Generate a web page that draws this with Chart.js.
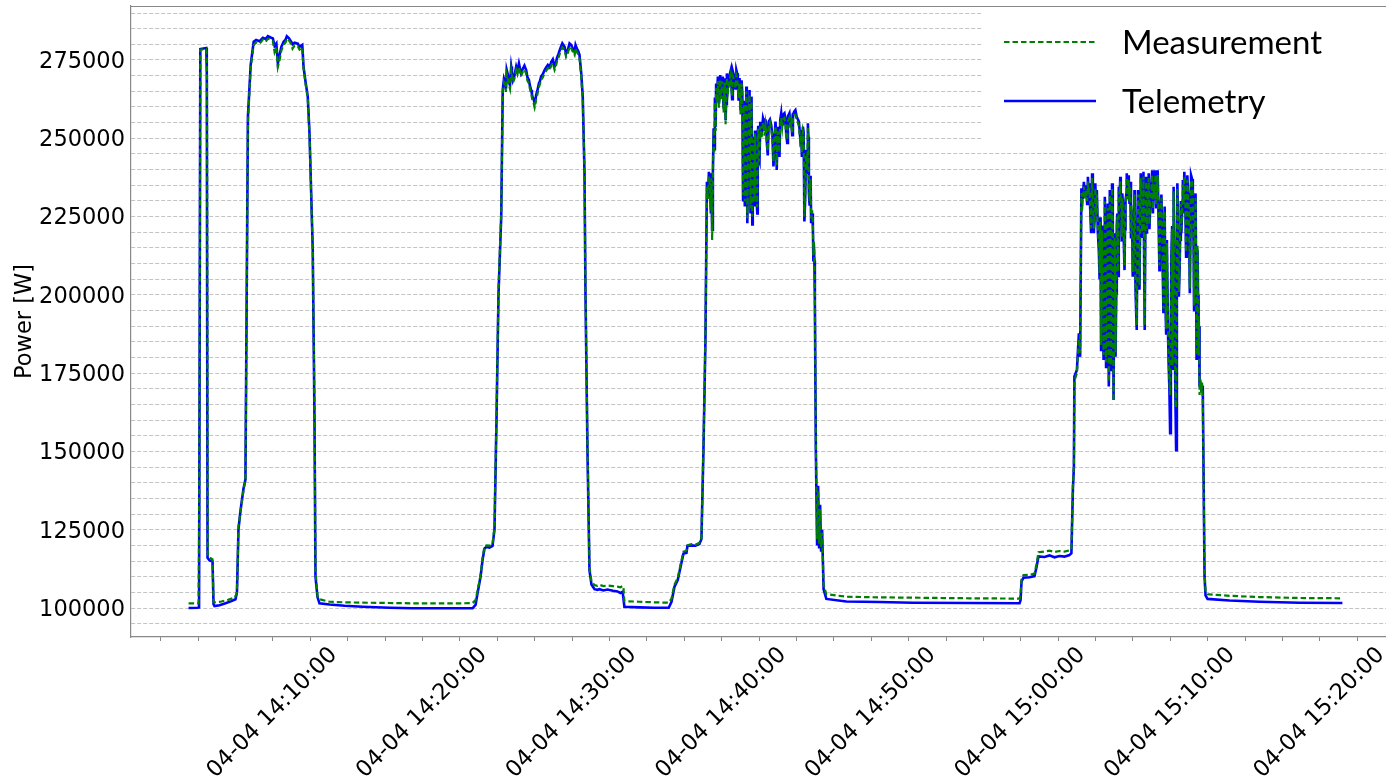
<!DOCTYPE html>
<html>
<head>
<meta charset="utf-8">
<script src="https://cdn.jsdelivr.net/npm/chart.js@4.4.1/dist/chart.umd.min.js"></script>
<style>
  html, body { margin: 0; padding: 0; background: #fff; overflow: hidden; }
  #wrap { width: 1386px; height: 779px; overflow: hidden; position: relative; }
  canvas { display: block; }
</style>
</head>
<body>
<div id="wrap"><canvas id="c" width="1410" height="779"></canvas></div>
<script>
// ---- Data (time = seconds after 04-04 14:00:00, power in W) ----
const seriesNames = ['Measurement', 'Telemetry'];
const datePrefix = '04-04';

const telemetryTime = [
  262, 298, 304, 309, 333, 335, 338, 346, 358, 362, 366, 386, 410, 434, 450, 456, 462, 470, 482, 490,
  500, 511, 523, 533, 547, 560, 571, 580, 591, 600, 607, 614, 620, 627, 634, 643, 651, 656, 664, 674,
  679, 687, 700, 707, 718, 723, 731, 740, 747, 760, 767, 771, 779, 787, 827, 888, 960, 1068, 1160, 1269,
  1361, 1401, 1413, 1421, 1433, 1441, 1449, 1457, 1469, 1481, 1489, 1497, 1505, 1516, 1522, 1533, 1538, 1547, 1556, 1563,
  1576, 1587, 1603, 1616, 1627, 1636, 1642, 1650, 1656, 1667, 1676, 1690, 1703, 1717, 1730, 1739, 1753, 1770, 1783, 1797,
  1810, 1819, 1830, 1837, 1843, 1850, 1854, 1862, 1870, 1878, 1890, 1902, 1910, 1926, 1942, 1964, 1982, 1994, 2003, 2010,
  2071, 2131, 2188, 2199, 2211, 2224, 2235, 2247, 2259, 2263, 2279, 2295, 2311, 2319, 2327, 2335, 2341, 2349, 2354, 2359,
  2362, 2365, 2368, 2376, 2378, 2385, 2389, 2394, 2402, 2408, 2412, 2416, 2421, 2432, 2439, 2445, 2452, 2459, 2465, 2472,
  2476, 2483, 2486, 2490, 2493, 2499, 2503, 2508, 2512, 2516, 2520, 2525, 2532, 2536, 2541, 2545, 2549, 2555, 2566, 2572,
  2576, 2581, 2589, 2599, 2608, 2616, 2621, 2625, 2629, 2635, 2639, 2646, 2652, 2659, 2666, 2672, 2679, 2686, 2696, 2701,
  2710, 2719, 2726, 2732, 2739, 2746, 2750, 2755, 2759, 2766, 2768, 2772, 2774, 2778, 2783, 2787, 2791, 2795, 2799, 2803,
  2809, 2820, 2900, 3033, 3166, 3394, 3595, 3599, 3603, 3611, 3635, 3655, 3663, 3671, 3695, 3715, 3735, 3755, 3775, 3795,
  3803, 3809, 3813, 3815, 3825, 3833, 3838, 3843, 3853, 3862, 3869, 3875, 3882, 3886, 3893, 3899, 3905, 3913, 3918, 3922,
  3926, 3932, 3937, 3942, 3949, 3953, 3957, 3962, 3966, 3972, 3976, 3980, 3985, 3989, 3993, 3999, 4003, 4007, 4012, 4016,
  4020, 4025, 4033, 4039, 4044, 4049, 4056, 4060, 4065, 4071, 4076, 4081, 4087, 4092, 4097, 4103, 4108, 4113, 4119, 4127,
  4132, 4140, 4145, 4149, 4156, 4161, 4167, 4172, 4177, 4183, 4188, 4193, 4199, 4204, 4209, 4213, 4219, 4223, 4228, 4234,
  4239, 4244, 4250, 4256, 4263, 4268, 4274, 4278, 4283, 4290, 4295, 4301, 4305, 4309, 4313, 4317, 4324, 4330, 4333, 4337,
  4341, 4349, 4437, 4557, 4718, 4890
];
const telemetryPower = [
  100000, 100100, 100200, 278500, 278800, 271000, 116000, 115200, 114800, 101200, 100600, 100900, 101500, 102200, 102800, 105000, 125000, 131000, 138000, 141000,
  257000, 273400, 280800, 281400, 281000, 282100, 281700, 282600, 282200, 281900, 279500, 280300, 273900, 276600, 279200, 280800, 281500, 282600, 282000, 280800,
  280000, 280500, 280200, 279200, 279800, 272900, 268100, 263300, 251600, 214300, 160000, 110000, 103500, 101500, 101100, 100700, 100400, 100100, 99900, 99900,
  99900, 99900, 101000, 104700, 110000, 115300, 119000, 119500, 119300, 119800, 125000, 160000, 200000, 225000, 265400, 267500, 271800, 268000, 272900, 268600,
  272900, 273900, 272300, 271800, 268600, 265400, 263000, 261200, 263800, 267500, 269700, 271800, 273400, 274400, 272900, 275500, 278700, 279200, 278200, 279800,
  277600, 278700, 276600, 270700, 263300, 238900, 200000, 150000, 112000, 107500, 106000, 105800, 106000, 105600, 105900, 105500, 105300, 104800, 105200, 100400,
  100200, 100100, 100100, 102000, 106800, 108900, 113000, 117400, 117600, 119800, 120000, 119900, 120400, 122000, 150000, 185000, 236100, 239300, 232400, 238800,
  220700, 239800, 253200, 253700, 267500, 269700, 261200, 270200, 269700, 259500, 269200, 255800, 270700, 270200, 267500, 271300, 269700, 271800, 268000, 269200,
  259000, 264400, 230200, 262000, 228200, 266500, 222900, 248000, 265400, 226000, 263300, 235600, 228200, 245300, 229300, 251600, 244000, 255300, 256400, 252200,
  256000, 249400, 255300, 254200, 241000, 255300, 239900, 253700, 250600, 255800, 258000, 257500, 258000, 251600, 257000, 258000, 256400, 257500, 259000, 256900,
  255300, 252600, 253700, 223400, 246300, 254800, 232400, 232400, 222900, 221800, 211100, 211000, 198300, 150000, 120000, 139000, 119000, 133000, 118000, 125000,
  106000, 102900, 102100, 101900, 101700, 101600, 101500, 102500, 108500, 109700, 109800, 110200, 113000, 116500, 116300, 116800, 116200, 116600, 116400, 116900,
  117500, 138000, 145000, 173900, 176000, 187700, 180200, 234000, 236100, 235000, 237700, 235600, 219700, 238800, 219700, 235600, 233500, 214300, 224800, 182400,
  222100, 179200, 231300, 177000, 229200, 170700, 233500, 176000, 235600, 166400, 219700, 180200, 222100, 214300, 234500, 237700, 225000, 232400, 221800, 207900,
  230200, 238800, 238200, 236100, 227100, 205800, 233500, 202600, 188800, 233500, 201600, 238800, 218600, 239300, 188800, 237700, 229200, 238800, 228200, 239800,
  232400, 239800, 235600, 239800, 207900, 228200, 219700, 194100, 228200, 187700, 203700, 178100, 155800, 212200, 176000, 234500, 174900, 150400, 235600, 199400,
  217600, 219700, 236700, 239300, 212200, 238200, 225000, 200500, 238200, 233500, 195100, 232400, 179200, 214300, 179200, 170700, 170700, 170200, 144100, 110000,
  104000, 102900, 102400, 102000, 101700, 101600
];
// additional telemetry samples read from the noisy plateaus
const telemetryExtraTime = [
  1527, 1535, 1542, 1551, 1559, 1569, 1581, 1595, 1609, 1621, 1631, 1639, 1646, 1653, 1661, 1671, 1683, 1696, 1710, 1723,
  1735, 1746, 1761, 1776, 1790, 1803, 1814, 1825,
  2345, 2352, 2357, 2370, 2373, 2381, 2392, 2398, 2405, 2410, 2414, 2418, 2426, 2436, 2442, 2449, 2456, 2462, 2468, 2480,
  2488, 2496, 2501, 2506, 2510, 2514, 2518, 2523, 2528, 2534, 2539, 2543, 2547, 2552, 2560, 2569, 2579, 2585, 2594, 2604,
  2612, 2619, 2632, 2643, 2656, 2663, 2676, 2683, 2691, 2706, 2715, 2722, 2729, 2735, 2743, 2748, 2753, 2757, 2763, 2770,
  3848, 3858, 3866, 3872, 3879, 3889, 3896, 3902, 3909, 3916, 3920, 3924, 3929, 3935, 3940, 3945, 3951, 3955, 3960, 3964,
  3969, 3974, 3978, 3983, 3987, 3991, 3996, 4001, 4005, 4010, 4014, 4018, 4023, 4029, 4036, 4042, 4047, 4053, 4058, 4062,
  4068, 4074, 4079, 4084, 4090, 4095, 4100, 4106, 4111, 4116, 4123, 4130, 4136, 4143, 4147, 4153, 4158, 4164, 4170, 4175,
  4180, 4186, 4191, 4196, 4202, 4207, 4211, 4216, 4221, 4226, 4231, 4237, 4242, 4247, 4253, 4260, 4266, 4271, 4276, 4281,
  4287, 4293, 4298, 4303, 4307, 4311, 4315, 4320, 4327
];
const telemetryExtraPower = [
  269000, 265800, 270500, 266900, 271200, 270000, 271500, 270800, 273200, 269500, 266800, 264200, 262500, 262000, 265200, 268200, 270500, 272600, 272700, 275200,
  273900, 277000, 280300, 277000, 280300, 278600, 279800, 277800,
  231000, 236500, 226000, 246500, 263000, 262500, 264000, 263500, 266000, 262500, 265500, 261000, 266000, 271500, 262500, 270000, 265500, 270800, 262000, 268500,
  258000, 235000, 262500, 240000, 258500, 236500, 250000, 222500, 250500, 252500, 238000, 226000, 254000, 243000, 251000, 255500, 253500, 244500, 256000, 250500,
  248500, 251500, 244000, 254500, 256000, 248500, 254000, 251000, 258500, 256000, 250500, 244000, 252000, 230000, 239000, 250500, 228500, 238000, 226000, 216000,
  230500, 231500, 229000, 233500, 226000, 230000, 224000, 226500, 220000, 205000, 215000, 196000, 210500, 189000, 222000, 186000, 214000, 181000, 226000, 188000,
  224000, 192000, 208000, 200500, 226000, 206000, 230000, 232000, 217000, 228500, 214000, 221000, 232000, 231500, 229000, 218000, 222000, 212500, 224000, 196500,
  220500, 215500, 226000, 230500, 225000, 208000, 228000, 219500, 232500, 221000, 234000, 226000, 233500, 228000, 233000, 222500, 215500, 232000, 205000, 213000,
  199000, 217500, 186000, 170000, 190500, 222000, 196000, 212000, 162000, 208000, 220500, 208000, 230000, 226500, 230000, 228500, 220000, 232500, 214000, 222000,
  237000, 216500, 214000, 211000, 196500, 200000, 190000, 172000, 171000
];

const measurementTime = [
  262, 302, 305, 309, 333, 336, 339, 358, 362, 366, 390, 420, 446, 455, 458, 462, 470, 482, 490, 500,
  511, 523, 533, 547, 560, 571, 580, 591, 600, 607, 614, 620, 627, 634, 643, 651, 656, 664, 674, 679,
  687, 700, 707, 718, 723, 731, 740, 747, 760, 767, 771, 779, 787, 827, 888, 960, 1068, 1160, 1269, 1361,
  1401, 1413, 1421, 1433, 1441, 1449, 1457, 1469, 1481, 1489, 1497, 1505, 1516, 1522, 1533, 1538, 1547, 1556, 1563, 1576,
  1587, 1603, 1616, 1627, 1636, 1642, 1650, 1656, 1667, 1676, 1690, 1703, 1717, 1730, 1739, 1753, 1770, 1783, 1797, 1810,
  1819, 1830, 1837, 1843, 1850, 1854, 1862, 1870, 1878, 1890, 1902, 1910, 1926, 1942, 1964, 1982, 1994, 2003, 2006, 2010,
  2071, 2131, 2188, 2199, 2211, 2224, 2235, 2247, 2259, 2263, 2279, 2295, 2311, 2319, 2327, 2335, 2341, 2349, 2354, 2359,
  2362, 2365, 2368, 2376, 2378, 2385, 2389, 2394, 2402, 2408, 2412, 2416, 2421, 2432, 2439, 2445, 2452, 2459, 2465, 2472,
  2476, 2483, 2486, 2490, 2493, 2499, 2503, 2508, 2512, 2516, 2520, 2525, 2532, 2536, 2541, 2545, 2549, 2555, 2566, 2572,
  2576, 2581, 2589, 2599, 2608, 2616, 2621, 2625, 2629, 2635, 2639, 2646, 2652, 2659, 2666, 2672, 2679, 2686, 2696, 2701,
  2710, 2719, 2726, 2732, 2739, 2746, 2750, 2755, 2759, 2766, 2768, 2772, 2774, 2778, 2783, 2787, 2791, 2795, 2799, 2803,
  2809, 2820, 2900, 3033, 3166, 3394, 3595, 3599, 3603, 3611, 3635, 3655, 3663, 3671, 3695, 3715, 3735, 3755, 3775, 3795,
  3803, 3809, 3813, 3815, 3825, 3833, 3838, 3843, 3853, 3862, 3869, 3875, 3882, 3886, 3893, 3899, 3905, 3913, 3918, 3922,
  3926, 3932, 3937, 3942, 3949, 3953, 3957, 3962, 3966, 3972, 3976, 3980, 3985, 3989, 3993, 3999, 4003, 4007, 4012, 4016,
  4020, 4025, 4033, 4039, 4044, 4049, 4056, 4060, 4065, 4071, 4076, 4081, 4087, 4092, 4097, 4103, 4108, 4113, 4119, 4127,
  4132, 4140, 4145, 4149, 4156, 4161, 4167, 4172, 4177, 4183, 4188, 4193, 4199, 4204, 4209, 4213, 4219, 4223, 4228, 4234,
  4239, 4244, 4250, 4256, 4263, 4268, 4274, 4278, 4283, 4290, 4295, 4301, 4305, 4309, 4313, 4317, 4324, 4330, 4333, 4337,
  4341, 4349, 4437, 4557, 4718, 4890
];
const measurementPower = [
  101500, 101500, 140000, 278300, 278500, 270000, 116500, 115500, 102000, 101800, 102000, 102600, 103300, 104500, 110000, 126000, 130500, 137500, 141000, 255000,
  272500, 279800, 280600, 280200, 281500, 280800, 281800, 281500, 281000, 277500, 279000, 272800, 275000, 278000, 279800, 280600, 281800, 281300, 280000, 278600,
  279600, 279400, 278300, 279000, 272500, 267500, 262800, 251000, 214000, 165000, 112000, 103800, 102800, 102000, 101800, 101700, 101600, 101500, 101500, 101500,
  101600, 102500, 105500, 110500, 116000, 119700, 120000, 119900, 120300, 126000, 162000, 202000, 226000, 264500, 266500, 270500, 267000, 271800, 267800, 271800,
  272800, 271300, 270600, 267500, 264300, 262000, 259800, 262500, 266300, 268600, 270800, 272300, 273300, 271800, 274400, 277500, 278200, 277100, 278700, 276600,
  277600, 275600, 269500, 262000, 240000, 202000, 152000, 113000, 108500, 107300, 107100, 107400, 107000, 107200, 107000, 106800, 106600, 107000, 106900, 102200,
  102000, 101800, 101700, 103000, 107500, 109600, 113800, 118000, 118300, 120000, 120400, 120200, 120800, 122500, 151000, 186000, 234500, 237800, 230800, 237200,
  217500, 238300, 251800, 252300, 266000, 268200, 259800, 268800, 268200, 258200, 267800, 254500, 269300, 268800, 266000, 269800, 268300, 270300, 266600, 267800,
  257600, 263000, 231800, 260600, 229800, 265000, 224500, 246600, 264000, 227600, 261800, 237200, 229800, 243800, 230900, 250100, 242600, 253800, 254900, 250800,
  254500, 248000, 253800, 252800, 242500, 253800, 241400, 252200, 249200, 254300, 256500, 256000, 256500, 250200, 255500, 256500, 255000, 256000, 257500, 255500,
  253800, 251200, 252200, 225000, 244800, 253300, 234000, 233800, 224400, 223300, 212600, 212500, 199800, 152000, 122000, 137500, 120500, 131500, 119500, 124000,
  107500, 104400, 103600, 103400, 103300, 103100, 103000, 104000, 109500, 110500, 110600, 111000, 114000, 117800, 118000, 118300, 117900, 118200, 118000, 118400,
  119000, 139000, 146000, 172500, 175000, 186000, 181500, 232500, 234600, 233600, 236200, 234100, 221200, 237300, 221200, 234100, 232000, 215800, 223300, 184000,
  220600, 180800, 229800, 178500, 227700, 172200, 232000, 177500, 234100, 166000, 218200, 181700, 220600, 215800, 233000, 236200, 226500, 230900, 223300, 209400,
  228700, 237300, 236700, 234600, 228600, 207300, 232000, 204100, 190300, 232000, 203100, 237300, 220100, 237800, 190300, 236200, 230700, 237300, 229700, 238300,
  233900, 238300, 236100, 238300, 209400, 226700, 221200, 195600, 226700, 189200, 205200, 179600, 168000, 210700, 177500, 233000, 176400, 164000, 234100, 200900,
  219100, 221200, 235200, 237800, 213700, 236700, 226500, 202000, 236700, 232000, 196600, 230900, 180700, 215800, 180700, 168000, 168500, 166000, 142000, 112000,
  105500, 104400, 103900, 103500, 103200, 103100
];
// additional measurement samples read from the noisy plateaus
const measurementExtraTime = [
  1527, 1535, 1542, 1551, 1559, 1569, 1581, 1595, 1609, 1621, 1631, 1639, 1646, 1653, 1661, 1671, 1683, 1696, 1710, 1723,
  1735, 1746, 1761, 1776, 1790, 1803, 1814, 1825,
  2345, 2352, 2357, 2370, 2373, 2381, 2392, 2398, 2405, 2410, 2414, 2418, 2426, 2436, 2442, 2449, 2456, 2462, 2468, 2480,
  2488, 2496, 2501, 2506, 2510, 2514, 2518, 2523, 2528, 2534, 2539, 2543, 2547, 2552, 2560, 2569, 2579, 2585, 2594, 2604,
  2612, 2619, 2632, 2643, 2656, 2663, 2676, 2683, 2691, 2706, 2715, 2722, 2729, 2735, 2743, 2748, 2753, 2757, 2763, 2770,
  3848, 3858, 3866, 3872, 3879, 3889, 3896, 3902, 3909, 3916, 3920, 3924, 3929, 3935, 3940, 3945, 3951, 3955, 3960, 3964,
  3969, 3974, 3978, 3983, 3987, 3991, 3996, 4001, 4005, 4010, 4014, 4018, 4023, 4029, 4036, 4042, 4047, 4053, 4058, 4062,
  4068, 4074, 4079, 4084, 4090, 4095, 4100, 4106, 4111, 4116, 4123, 4130, 4136, 4143, 4147, 4153, 4158, 4164, 4170, 4175,
  4180, 4186, 4191, 4196, 4202, 4207, 4211, 4216, 4221, 4226, 4231, 4237, 4242, 4247, 4253, 4260, 4266, 4271, 4276, 4281,
  4287, 4293, 4298, 4303, 4307, 4311, 4315, 4320, 4327
];
const measurementExtraPower = [
  267800, 264800, 269300, 265800, 270200, 269000, 270500, 269800, 272000, 268400, 265800, 263000, 261200, 260800, 264000, 267200, 269500, 271500, 271800, 274000,
  272800, 275800, 279000, 276000, 279300, 277600, 278800, 276800,
  230500, 235500, 227000, 245000, 261500, 261500, 263000, 262500, 265000, 263000, 264500, 262000, 265000, 270300, 263500, 269000, 266000, 269600, 263000, 267500,
  259000, 237000, 261500, 242000, 257500, 238500, 249000, 225000, 249500, 251500, 239500, 228000, 253000, 244500, 250000, 254500, 252500, 246000, 255000, 249500,
  249500, 250500, 245500, 253500, 255000, 249500, 253000, 251500, 257500, 255000, 249500, 245500, 251000, 232000, 240000, 249500, 230000, 237000, 227000, 217000,
  229500, 230500, 230000, 232500, 227500, 229000, 225500, 225500, 221500, 207000, 214000, 198000, 209500, 191000, 221000, 188000, 213000, 183000, 225000, 190000,
  223000, 194000, 207000, 202000, 225000, 207500, 229000, 231000, 218500, 227500, 215500, 220000, 231000, 230500, 230000, 219500, 221000, 214000, 223000, 198500,
  219500, 217000, 225000, 229500, 226000, 210000, 227000, 221000, 231500, 222500, 233000, 227500, 232500, 229000, 232000, 224000, 217000, 231000, 207000, 212000,
  201000, 216500, 188000, 172000, 189500, 221000, 198000, 211000, 165000, 207000, 219500, 209500, 229000, 225500, 229000, 229500, 221500, 231500, 215500, 221000,
  236000, 218000, 215500, 210000, 198000, 199000, 191500, 173000, 172000
];

// Axis ticks
const xRange = [31, 5121];            // seconds after 14:00:00
const xMinorStep = 150;               // 2.5 min
const xMajorStep = 600;               // 10 min -> labelled
const yRange = [90740, 292240];
const yMinorStep = 5000;
const yMajorStep = 25000;             // labelled

function pad2(n) { return String(n).padStart(2, '0'); }
function timeLabel(sec) {
  const h = 14 + Math.floor(sec / 3600);
  const m = Math.floor((sec % 3600) / 60);
  const s = sec % 60;
  return datePrefix + ' ' + h + ':' + pad2(m) + ':' + pad2(s);
}
function toPoints(ts, vs, ets, evs) {
  const pts = ts.map((t, i) => ({ x: t, y: vs[i] }));
  ets.forEach((t, i) => pts.push({ x: t, y: evs[i] }));
  return pts.sort((a, b) => a.x - b.x);
}

const TICK_FONT = { family: "'DejaVu Sans', sans-serif", size: 22.5 };

const frameAndLegend = {
  id: 'frameAndLegend',
  afterDatasetsDraw(chart) {
    const ctx = chart.ctx;
    const a = chart.chartArea;
    ctx.save();
    // legend box (white, no visible edge)
    const bx = a.left + 852, by = a.top + 2, bw = a.right - bx - 6, bh = 138;
    ctx.fillStyle = '#ffffff';
    ctx.fillRect(bx, by, bw, bh);
    const ds = chart.data.datasets;
    const rows = [a.top + 36, a.top + 95];
    ds.forEach((d, i) => {
      const y = rows[i];
      ctx.beginPath();
      ctx.strokeStyle = d.borderColor;
      ctx.lineWidth = d.borderWidth;
      ctx.setLineDash(d.borderDash || []);
      ctx.moveTo(bx + 21, y);
      ctx.lineTo(bx + 113, y);
      ctx.stroke();
      ctx.setLineDash([]);
      ctx.fillStyle = '#000';
      ctx.font = "33px Lato, 'Open Sans', sans-serif";
      ctx.textBaseline = 'middle';
      ctx.textAlign = 'left';
      ctx.fillText(d.label, bx + 139, y + 1);
    });
    // top spine
    ctx.beginPath();
    ctx.strokeStyle = '#888';
    ctx.lineWidth = 1.2;
    ctx.moveTo(a.left, a.top + 0.5);
    ctx.lineTo(a.right, a.top + 0.5);
    ctx.stroke();
    ctx.restore();
  }
};

new Chart(document.getElementById('c'), {
  type: 'line',
  data: {
    datasets: [
      {
        label: seriesNames[0],
        data: toPoints(measurementTime, measurementPower, measurementExtraTime, measurementExtraPower),
        borderColor: '#008000',
        borderWidth: 2.2,
        borderDash: [5.5, 3],
        pointRadius: 0,
        tension: 0,
        fill: false
      },
      {
        label: seriesNames[1],
        data: toPoints(telemetryTime, telemetryPower, telemetryExtraTime, telemetryExtraPower),
        borderColor: '#0000ff',
        borderWidth: 2.6,
        pointRadius: 0,
        tension: 0,
        fill: false
      }
    ]
  },
  options: {
    responsive: false,
    devicePixelRatio: 1,
    animation: false,
    layout: { padding: { left: 0, right: 10, top: 6, bottom: 0 } },
    plugins: { legend: { display: false }, tooltip: { enabled: false } },
    scales: {
      x: {
        type: 'linear',
        min: xRange[0],
        max: xRange[1],
        afterBuildTicks(scale) {
          const t = [];
          for (let v = Math.ceil(xRange[0] / xMinorStep) * xMinorStep; v <= xRange[1]; v += xMinorStep) t.push({ value: v });
          scale.ticks = t;
        },
        afterFit(scale) {
          scale.height = 142;
          scale.paddingLeft = 0; scale.paddingRight = 0;
        },
        grid: { drawOnChartArea: false, drawTicks: true, tickLength: 4, tickColor: '#888', tickWidth: 1 },
        border: { display: true, color: '#888', width: 1.2 },
        ticks: {
          autoSkip: false,
          minRotation: 45,
          maxRotation: 45,
          labelOffset: 61,
          padding: 1,
          color: '#000',
          font: TICK_FONT,
          callback: (v) => (v % xMajorStep === 0 ? timeLabel(v) : '')
        }
      },
      y: {
        type: 'linear',
        min: yRange[0],
        max: yRange[1],
        afterBuildTicks(scale) {
          const t = [];
          for (let v = Math.ceil(yRange[0] / yMinorStep) * yMinorStep; v <= yRange[1]; v += yMinorStep) t.push({ value: v });
          scale.ticks = t;
        },
        afterFit(scale) {
          scale.width = 131;
          scale.paddingTop = 0; scale.paddingBottom = 0;
        },
        grid: { drawOnChartArea: true, drawTicks: false, color: '#c4c4c4', lineWidth: 1 },
        border: { display: true, color: '#888', width: 1.2, dash: [4, 2] },
        ticks: {
          autoSkip: false,
          padding: 6,
          labelOffset: 2,
          color: '#000',
          font: TICK_FONT,
          callback: (v) => (v % yMajorStep === 0 ? String(v) : '')
        },
        title: {
          display: true,
          text: 'Power [W]',
          color: '#000',
          font: TICK_FONT,
          padding: { top: 12, bottom: 0 }
        }
      }
    }
  },
  plugins: [frameAndLegend]
});
</script>
</body>
</html>
